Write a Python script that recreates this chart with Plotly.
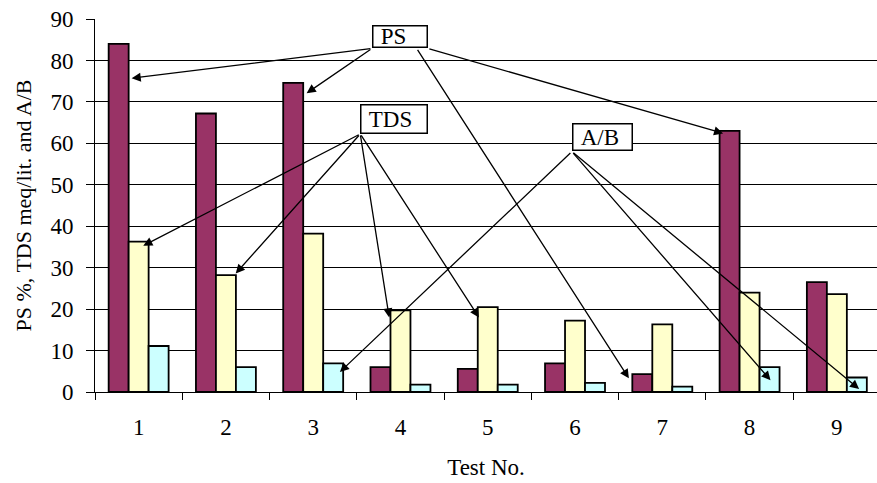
import plotly.graph_objects as go

categories = ["1", "2", "3", "4", "5", "6", "7", "8", "9"]
ps_values = [84.0, 67.2, 74.6, 6.0, 5.6, 6.9, 4.3, 63.0, 26.5]
tds_values = [36.3, 28.2, 38.2, 19.7, 20.5, 17.2, 16.3, 24.0, 23.6]
ab_values = [11.1, 6.0, 6.9, 1.8, 1.8, 2.2, 1.3, 6.0, 3.5]
y_ticks = [0, 10, 20, 30, 40, 50, 60, 70, 80, 90]

FONT = "Liberation Serif, Times New Roman, serif"
FS = 23

fig = go.Figure()
for name, vals, color in [("PS", ps_values, "#993366"),
                          ("TDS", tds_values, "#FFFFCC"),
                          ("A/B", ab_values, "#CCFFFF")]:
    fig.add_trace(go.Bar(x=categories, y=vals, name=name,
                         marker=dict(color=color, line=dict(color="black", width=1.8))))

# label boxes: (text, x, y, width, height)
boxes = [("PS", 2.995, 85.67, 56, 23),
         ("TDS", 2.927, 65.94, 68, 30),
         ("A/B", 5.315, 61.43, 61, 28)]
annotations = []
for txt, bx, by, w, h in boxes:
    annotations.append(dict(x=bx, y=by, xref="x", yref="y", text="&nbsp;" + txt,
                            showarrow=False, align="left", width=w - 6, height=h - 6,
                            borderpad=1.5, borderwidth=1.5, bordercolor="black",
                            bgcolor="white", font=dict(family=FONT, size=FS, color="black"),
                            xanchor="center", yanchor="middle"))

# arrows: (tail_x, tail_y, head_x, head_y)
arrows = [
    (2.673, 82.9, -0.080, 75.7),
    (2.673, 82.9, 1.925, 72.1),
    (3.185, 82.9, 5.617, 3.3),
    (3.314, 82.9, 6.697, 62.4),
    (2.539, 62.26, 0.053, 35.3),
    (2.539, 62.26, 1.112, 28.6),
    (2.539, 62.26, 2.871, 18.0),
    (2.539, 62.26, 3.899, 18.0),
    (4.964, 58.0, 2.306, 4.83),
    (4.964, 58.0, 7.24, 2.83),
    (4.964, 58.0, 8.255, 0.73),
]
arrow_annots = []
for tx, ty, hx, hy in arrows:
    arrow_annots.append(dict(x=hx, y=hy, ax=tx, ay=ty, xref="x", yref="y",
                             axref="x", ayref="y", text="", showarrow=True,
                             arrowhead=2, arrowsize=1.4, arrowwidth=1.3,
                             arrowcolor="black", standoff=0, startstandoff=0))

fig.update_layout(
    width=877, height=483,
    margin=dict(l=95, r=0, t=19, b=91, autoexpand=False),
    paper_bgcolor="white", plot_bgcolor="white",
    barmode="group", bargap=0.313, bargroupgap=0,
    showlegend=False,
    font=dict(family=FONT, size=FS, color="black"),
    annotations=arrow_annots + annotations,
    xaxis=dict(range=[-0.5, 8.46], tickson="boundaries", ticks="outside",
               ticklen=7, tickcolor="black", tickwidth=1,
               showline=True, linecolor="black", linewidth=1,
               showgrid=False, ticklabelstandoff=14, automargin=False,
               title=dict(text="Test No.", font=dict(family=FONT, size=FS), standoff=20)),
    yaxis=dict(range=[0, 90], tickvals=y_ticks, ticks="outside", ticklen=8,
               tickcolor="black", tickwidth=1,
               showline=True, linecolor="black", linewidth=1,
               showgrid=True, gridcolor="black", gridwidth=1,
               zeroline=False, ticklabelstandoff=8, automargin=False,
               title=dict(text="PS %, TDS meq/lit. and A/B", font=dict(family=FONT, size=22), standoff=12)),
)

fig.write_html("out.html", config={"displayModeBar": False},
               post_script="document.body.style.margin='0';")
